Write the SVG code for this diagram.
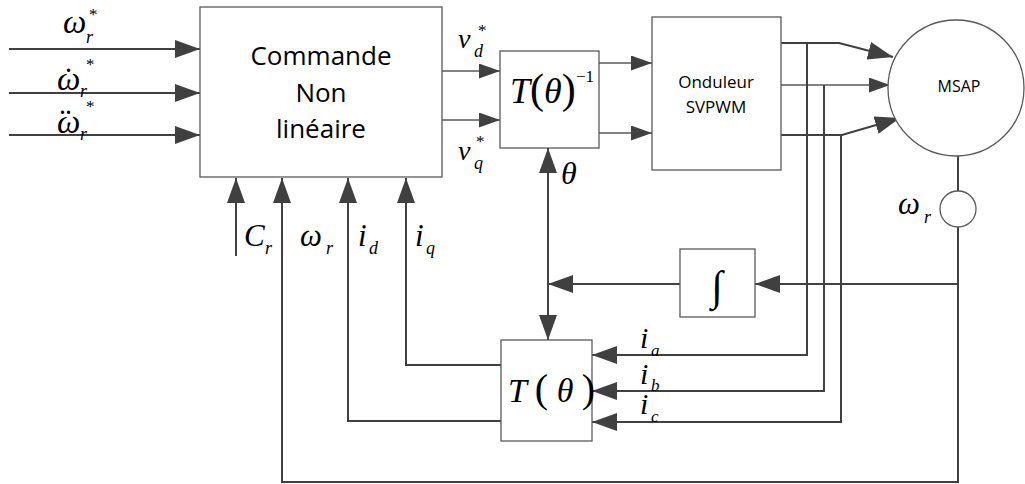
<svg xmlns="http://www.w3.org/2000/svg" width="1025" height="484" viewBox="0 0 1025 484">
<style>
.box{fill:#fff;stroke:#595959;stroke-width:1.3}
.ln{fill:none;stroke:#404040;stroke-width:2}
.th{fill:none;stroke:#595959;stroke-width:1.4}
.sans{font-family:"Open Sans","Liberation Sans",sans-serif;fill:#000}
.m{font-family:"Liberation Serif","DejaVu Serif",serif;font-style:italic;fill:#000}
.up{font-family:"Liberation Serif","DejaVu Serif",serif;fill:#000}
.dot{font-family:"Liberation Serif","DejaVu Serif",serif;font-weight:bold;fill:#000}
</style>
<defs>
<marker id="a" markerUnits="userSpaceOnUse" markerWidth="25" markerHeight="18" refX="25" refY="9" orient="auto-start-reverse" viewBox="0 0 25 18">
<path d="M0,0 L25,9 L0,18 z" fill="#404040"/>
</marker>
<marker id="s" markerUnits="userSpaceOnUse" markerWidth="21" markerHeight="15" refX="21" refY="7.5" orient="auto" viewBox="0 0 21 15">
<path d="M0,0 L21,7.5 L0,15 z" fill="#404040"/>
</marker>
</defs>

<g id="connectors">
<path class="ln" d="M9,49 H200" marker-end="url(#a)"/>
<path class="ln" d="M9,93 H200" marker-end="url(#a)"/>
<path class="ln" d="M9,135 H200" marker-end="url(#a)"/>
<path class="th" d="M442,71 H500" marker-end="url(#s)"/>
<path class="th" d="M442,120 H500" marker-end="url(#s)"/>
<path class="th" d="M599,63 H652" marker-end="url(#s)"/>
<path class="th" d="M599,133 H652" marker-end="url(#s)"/>
<path class="ln" d="M781,43 H839 L893,57" marker-end="url(#a)"/>
<path class="th" d="M781,85 H890" marker-end="url(#s)"/>
<path class="ln" d="M781,135 H842 L900,118" marker-end="url(#a)"/>
<path class="ln" d="M807,43 V355 H592" marker-end="url(#a)"/>
<path class="ln" d="M824,85 V391 H592" marker-end="url(#a)"/>
<path class="ln" d="M841,135 V422 H592" marker-end="url(#a)"/>
<path class="ln" d="M958,156 V191"/>
<path class="ln" d="M958,227 V482 H282 V178" marker-end="url(#a)"/>
<path class="ln" d="M958,284 H755" marker-end="url(#a)"/>
<path class="ln" d="M680,284 H548" marker-end="url(#a)"/>
<path class="ln" d="M548,148 V340" marker-start="url(#a)" marker-end="url(#a)"/>
<path class="ln" d="M501,365 H406 V178" marker-end="url(#a)"/>
<path class="ln" d="M501,421 H348 V178" marker-end="url(#a)"/>
<path class="ln" d="M236,256 V178" marker-end="url(#a)"/>
</g>

<g id="commande">
<rect class="box" x="200" y="7" width="242" height="170"/>
<text class="sans" font-size="26" text-anchor="middle"><tspan x="321" y="65">Commande</tspan><tspan x="321" y="102">Non</tspan><tspan x="321" y="138">linéaire</tspan></text>
</g>

<g id="tinv">
<rect class="box" x="500" y="51" width="99" height="97"/>
<text class="m" x="510" y="103" font-size="36">T<tspan class="up" font-style="normal" font-size="42">(</tspan>θ<tspan class="up" font-style="normal" font-size="42">)</tspan></text>
<text class="up" x="576" y="82" font-size="17">−1</text>
</g>

<g id="onduleur">
<rect class="box" x="652" y="17" width="129" height="153"/>
<text class="sans" font-size="17" text-anchor="middle"><tspan x="716" y="88">Onduleur</tspan><tspan x="716" y="113">SVPWM</tspan></text>
</g>

<g id="msap">
<circle class="box" cx="956" cy="88" r="68"/>
<text class="sans" x="959" y="92" font-size="16" text-anchor="middle">MSAP</text>
</g>

<g id="capteur">
<circle class="box" cx="958" cy="209" r="18"/>
</g>

<g id="integrateur">
<rect class="box" x="680" y="249" width="75" height="68"/>
<text class="up" x="717" y="300" font-size="42" text-anchor="middle">∫</text>
</g>

<g id="tpark">
<rect class="box" x="501" y="340" width="91" height="101"/>
<text class="m" x="508" y="402" font-size="34">T <tspan class="up" font-style="normal" font-size="40">(</tspan> θ <tspan class="up" font-style="normal" font-size="40">)</tspan></text>
</g>

<g id="labels">
<text class="m" x="63" y="33" font-size="33">ω</text>
<text class="m" x="86" y="43" font-size="18">r</text>
<text class="up" x="89" y="20" font-size="17">*</text>

<text class="m" x="57" y="90" font-size="33">ω</text>
<text class="dot" x="66" y="72" font-size="20">.</text>
<text class="m" x="80" y="97" font-size="18">r</text>
<text class="up" x="86" y="70" font-size="17">*</text>

<text class="m" x="57" y="133" font-size="33">ω</text>
<text class="dot" x="60" y="114" font-size="20" letter-spacing="1">..</text>
<text class="m" x="80" y="140" font-size="18">r</text>
<text class="up" x="86" y="112" font-size="17">*</text>

<text class="m" x="458" y="48" font-size="28">v</text>
<text class="m" x="474" y="57" font-size="18">d</text>
<text class="up" x="478" y="36" font-size="17">*</text>

<text class="m" x="458" y="160" font-size="28">v</text>
<text class="m" x="474" y="169" font-size="18">q</text>
<text class="up" x="476" y="147" font-size="17">*</text>

<text class="m" x="561" y="184" font-size="32">θ</text>

<text class="m" x="244" y="246" font-size="31">C</text>
<text class="m" x="265" y="254" font-size="18">r</text>
<text class="m" x="300" y="246" font-size="31">ω</text>
<text class="m" x="326" y="254" font-size="18">r</text>
<text class="m" x="358" y="246" font-size="31">i</text>
<text class="m" x="369" y="254" font-size="18">d</text>
<text class="m" x="415" y="246" font-size="31">i</text>
<text class="m" x="426" y="254" font-size="18">q</text>

<text class="m" x="640" y="348" font-size="30">i</text>
<text class="m" x="651" y="356" font-size="17">a</text>
<text class="m" x="640" y="384" font-size="30">i</text>
<text class="m" x="651" y="391" font-size="17">b</text>
<text class="m" x="640" y="414" font-size="30">i</text>
<text class="m" x="651" y="422" font-size="17">c</text>

<text class="m" x="898" y="214" font-size="31">ω</text>
<text class="m" x="924" y="223" font-size="18">r</text>
</g>
</svg>
